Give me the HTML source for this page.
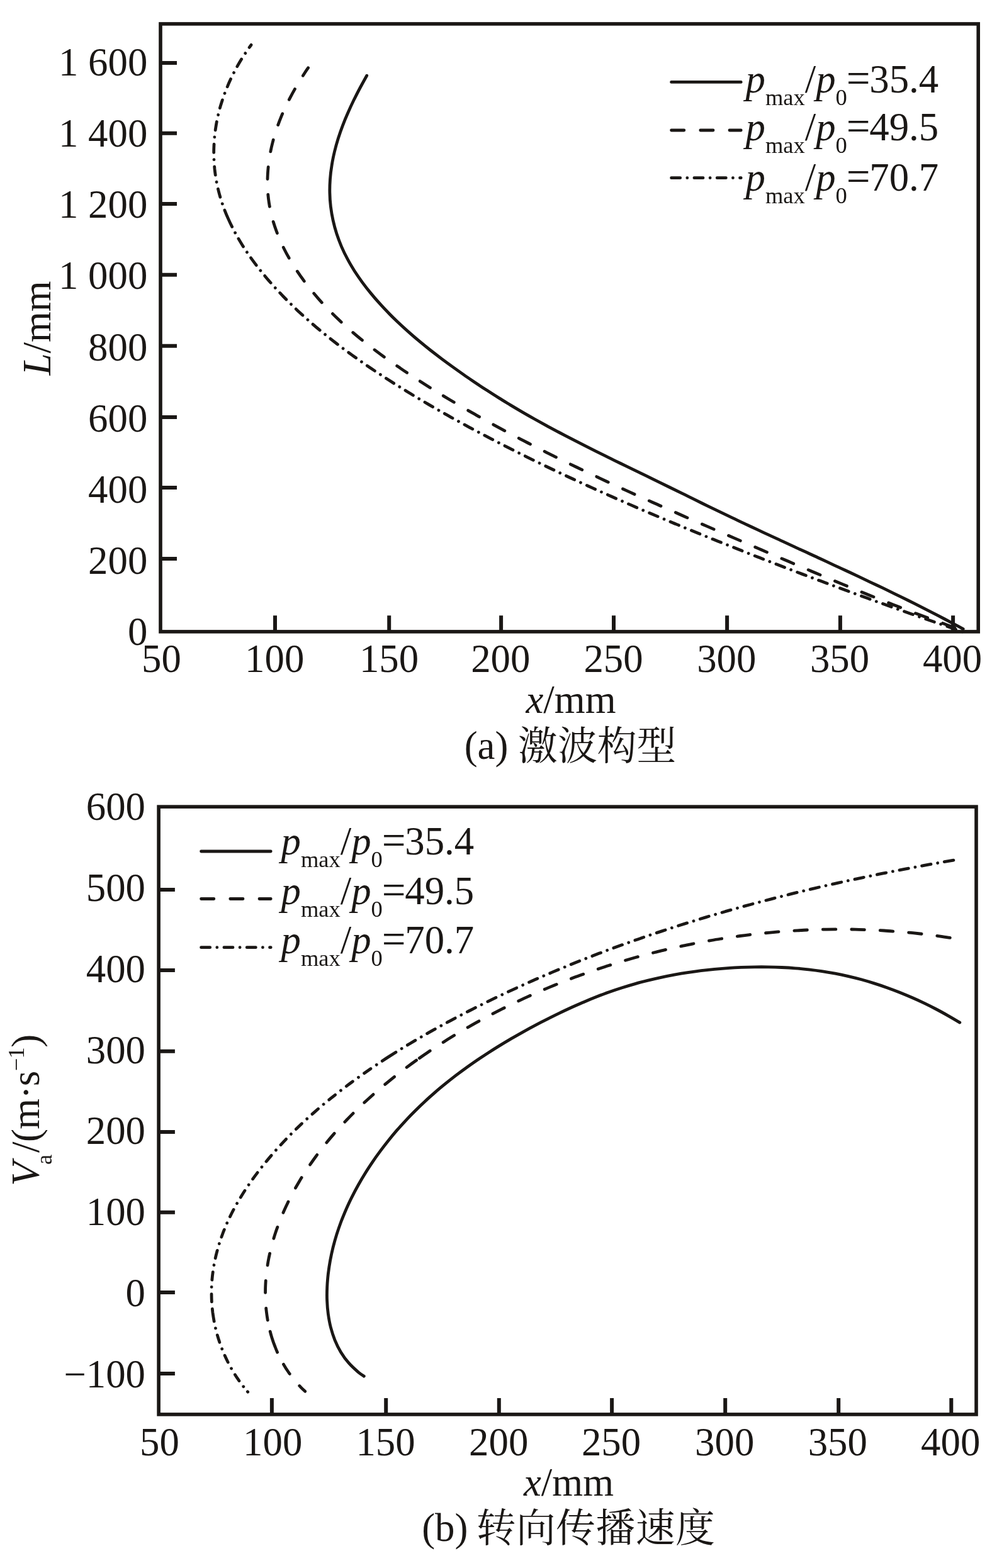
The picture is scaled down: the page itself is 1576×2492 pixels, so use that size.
<!DOCTYPE html>
<html lang="zh"><head><meta charset="utf-8"><title>激波构型与转向传播速度</title>
<style>html,body{margin:0;padding:0;background:#fff}svg{display:block}text{font-family:'Liberation Serif','Noto Serif CJK SC',serif;font-size:62.8px;fill:#1a1715}.i{font-style:italic}.s{font-size:36.5px}.ax{fill:none;stroke:#1a1715;stroke-width:5.6}.tk{stroke:#1a1715;stroke-width:6;fill:none}.cv{fill:none;stroke:#1a1715;stroke-width:4.8;stroke-linecap:round;stroke-linejoin:round}</style></head><body>
<svg width="1576" height="2492" viewBox="0 0 1576 2492">
<rect width="1576" height="2492" fill="#fff"/>
<rect class="ax" x="255.00" y="37.95" width="1299.20" height="965.95"/>
<path class="tk" d="M437.0 1003.9 V978.2M618.2 1003.9 V978.2M796.1 1003.9 V978.2M975.0 1003.9 V978.2M1155.1 1003.9 V978.2M1334.9 1003.9 V978.2M1514.1 1003.9 V978.2M255.0 99.9 H281.0M255.0 211.8 H281.0M255.0 323.9 H281.0M255.0 436.7 H281.0M255.0 549.8 H281.0M255.0 662.9 H281.0M255.0 775.0 H281.0M255.0 887.9 H281.0"/>
<text x="256.4" y="1068.2" text-anchor="middle">50</text>
<text x="436.2" y="1068.2" text-anchor="middle">100</text>
<text x="618.0" y="1068.2" text-anchor="middle">150</text>
<text x="795.3" y="1068.2" text-anchor="middle">200</text>
<text x="974.5" y="1068.2" text-anchor="middle">250</text>
<text x="1154.3" y="1068.2" text-anchor="middle">300</text>
<text x="1334.0" y="1068.2" text-anchor="middle">350</text>
<text x="1513.0" y="1068.2" text-anchor="middle">400</text>
<text x="234.3" y="119.8" text-anchor="end">1 600</text>
<text x="234.3" y="232.9" text-anchor="end">1 400</text>
<text x="234.3" y="346.1" text-anchor="end">1 200</text>
<text x="234.3" y="459.3" text-anchor="end">1 000</text>
<text x="234.3" y="572.8" text-anchor="end">800</text>
<text x="234.3" y="685.8" text-anchor="end">600</text>
<text x="234.3" y="799.1" text-anchor="end">400</text>
<text x="234.3" y="912.3" text-anchor="end">200</text>
<text x="234.3" y="1024.9" text-anchor="end">0</text>
<text x="907" y="1132.8" text-anchor="middle"><tspan class="i">x</tspan>/mm</text>
<text x="906" y="1205.6" text-anchor="middle">(a) <tspan dy="0.9">激波构型</tspan></text>
<text transform="translate(79.5 521.4) rotate(-90)" text-anchor="middle"><tspan class="i">L</tspan>/mm</text>
<path class="cv" d="M1066.6 130.4 H1177.2"/>
<path class="cv" stroke-dasharray="20.2 26" d="M1066.6 207.0 H1177.2"/>
<path class="cv" stroke-dasharray="14.1 11.1 0.01 11.1" d="M1066.6 282.7 H1177.2"/>
<text x="1184.5" y="146.6"><tspan class="i">p</tspan><tspan class="s" dy="20">max</tspan><tspan dy="-20">/</tspan><tspan class="i">p</tspan><tspan class="s" dy="20">0</tspan><tspan dy="-20" dx="-1.2" font-size="67">=</tspan><tspan dx="-1.2">35.4</tspan></text>
<text x="1184.5" y="223.0"><tspan class="i">p</tspan><tspan class="s" dy="20">max</tspan><tspan dy="-20">/</tspan><tspan class="i">p</tspan><tspan class="s" dy="20">0</tspan><tspan dy="-20" dx="-1.2" font-size="67">=</tspan><tspan dx="-1.2">49.5</tspan></text>
<text x="1184.5" y="303.0"><tspan class="i">p</tspan><tspan class="s" dy="20">max</tspan><tspan dy="-20">/</tspan><tspan class="i">p</tspan><tspan class="s" dy="20">0</tspan><tspan dy="-20" dx="-1.2" font-size="67">=</tspan><tspan dx="-1.2">70.7</tspan></text>
<path class="cv" d="M582.7 120.2C580.9 123.4 575.6 133.0 572.1 139.5C568.7 145.9 565.4 152.5 562.1 159.0C558.9 165.6 555.8 172.3 552.9 179.0C549.9 185.7 547.1 192.4 544.5 199.3C541.9 206.1 539.5 213.1 537.3 220.0C535.1 227.0 533.1 234.1 531.4 241.2C529.7 248.3 528.2 255.5 527.1 262.8C525.9 270.0 525.0 277.3 524.5 284.6C524.0 291.9 523.7 299.2 523.9 306.6C524.0 313.9 524.5 321.2 525.4 328.5C526.3 335.7 527.5 343.0 529.1 350.1C530.7 357.3 532.6 364.4 534.8 371.3C537.1 378.3 539.7 385.2 542.5 391.9C545.4 398.7 548.6 405.3 552.1 411.7C555.5 418.2 559.3 424.5 563.2 430.7C567.2 436.8 571.4 442.9 575.7 448.8C580.0 454.7 584.5 460.4 589.2 466.1C593.8 471.8 598.6 477.3 603.5 482.7C608.4 488.2 613.5 493.5 618.6 498.7C623.7 504.0 629.0 509.1 634.3 514.1C639.6 519.2 645.1 524.1 650.6 528.9C656.1 533.8 661.6 538.5 667.3 543.2C672.9 547.9 678.6 552.5 684.4 557.0C690.2 561.5 696.0 566.0 701.8 570.4C707.7 574.8 713.6 579.1 719.6 583.4C725.5 587.6 731.5 591.9 737.5 596.1C743.5 600.3 749.6 604.4 755.6 608.5C761.7 612.6 767.8 616.6 774.0 620.6C780.1 624.6 786.3 628.6 792.5 632.4C798.7 636.3 805.0 640.1 811.2 643.9C817.5 647.7 823.8 651.4 830.2 655.1C836.5 658.8 842.9 662.4 849.3 666.0C855.7 669.6 862.1 673.1 868.5 676.6C875.0 680.1 881.4 683.6 887.9 687.0C894.4 690.4 900.9 693.8 907.4 697.2C913.9 700.5 920.4 703.9 926.9 707.2C933.5 710.5 940.0 713.8 946.6 717.1C953.1 720.3 959.7 723.6 966.3 726.8C972.8 730.1 979.4 733.3 986.0 736.5C992.6 739.7 999.2 742.9 1005.8 746.1C1012.4 749.3 1018.9 752.5 1025.5 755.7C1032.1 758.9 1038.7 762.1 1045.3 765.4C1051.9 768.6 1058.5 771.8 1065.0 775.0C1071.6 778.3 1078.2 781.5 1084.8 784.7C1091.3 788.0 1097.9 791.2 1104.5 794.4C1111.1 797.7 1117.6 800.9 1124.2 804.1C1130.8 807.3 1137.4 810.5 1144.0 813.7C1150.6 816.9 1157.2 820.1 1163.8 823.2C1170.4 826.4 1177.1 829.5 1183.7 832.6C1190.3 835.7 1197.0 838.8 1203.6 841.9C1210.2 845.0 1216.9 848.1 1223.5 851.2C1230.2 854.3 1236.8 857.4 1243.5 860.4C1250.1 863.5 1256.8 866.6 1263.4 869.6C1270.1 872.7 1276.7 875.8 1283.4 878.8C1290.1 881.9 1296.7 885.0 1303.4 888.0C1310.0 891.1 1316.7 894.2 1323.3 897.3C1330.0 900.3 1336.6 903.4 1343.2 906.5C1349.9 909.6 1356.5 912.7 1363.2 915.9C1369.8 919.0 1376.4 922.1 1383.0 925.3C1389.6 928.4 1396.3 931.6 1402.9 934.7C1409.5 937.9 1416.1 941.1 1422.6 944.3C1429.2 947.5 1435.8 950.8 1442.4 954.0C1448.9 957.3 1455.5 960.6 1462.0 963.9C1468.6 967.2 1475.1 970.5 1481.6 973.8C1488.1 977.2 1494.6 980.6 1501.1 984.0C1507.6 987.4 1515.7 991.7 1520.5 994.3C1525.3 996.9 1528.6 998.7 1530.2 999.6"/>
<path class="cv" stroke-dasharray="20.48 25.46 20.48 25.46 20.48 25.46 20.48 25.46 20.48 25.46 20.48 25.46 20.48 25.46 20.48 25.46 20.48 25.46 20.48 25.46 20.48 25.46 20.48 25.46 20.48 25.46 20.48 25.46 20.48 25.46 20.48 25.46 20.48 25.46 20.48 25.46 20.48 25.96 19.83 24.45 19.18 24.77 19.18 24.77 19.18 24.77 19.18 24.77 19.18 24.77 19.18 24.77 19.18 24.77 19.18 24.77 19.18 24.77 19.18 24.77 19.18 24.77 19.18 24.77 19.18 24.77 19.18 24.77 14.92 9999" stroke-dashoffset="-13.89" d="M1529.9 1002.1C1527.4 1001.2 1520.0 998.6 1515.1 996.9C1510.1 995.1 1505.2 993.4 1500.3 991.6C1495.4 989.8 1490.5 988.0 1485.5 986.2C1480.6 984.4 1475.7 982.6 1470.8 980.8C1465.9 979.0 1461.0 977.1 1456.1 975.3C1451.2 973.4 1446.4 971.5 1441.5 969.7C1436.6 967.8 1431.7 965.9 1426.9 964.0C1422.0 962.1 1417.1 960.2 1412.2 958.3C1407.4 956.4 1402.5 954.5 1397.7 952.5C1392.8 950.6 1388.0 948.6 1383.1 946.7C1378.3 944.7 1373.4 942.8 1368.6 940.8C1363.7 938.8 1358.9 936.9 1354.0 934.9C1349.2 932.9 1344.4 930.9 1339.5 928.9C1334.7 926.9 1329.9 924.9 1325.1 922.9C1320.2 920.9 1315.4 918.9 1310.6 916.8C1305.8 914.8 1301.0 912.8 1296.1 910.8C1291.3 908.7 1286.5 906.7 1281.7 904.6C1276.9 902.6 1272.1 900.6 1267.3 898.5C1262.5 896.5 1257.6 894.4 1252.8 892.3C1248.0 890.3 1243.2 888.2 1238.4 886.2C1233.6 884.1 1228.8 882.0 1224.0 880.0C1219.2 877.9 1214.4 875.8 1209.6 873.8C1204.8 871.7 1200.0 869.6 1195.2 867.5C1190.4 865.5 1185.6 863.4 1180.8 861.3C1176.0 859.3 1171.2 857.2 1166.4 855.1C1161.6 853.0 1156.8 851.0 1152.0 848.9C1147.2 846.8 1142.4 844.7 1137.6 842.6C1132.8 840.6 1128.0 838.5 1123.2 836.4C1118.4 834.3 1113.6 832.2 1108.8 830.1C1104.0 828.0 1099.2 825.9 1094.4 823.9C1089.6 821.8 1084.8 819.7 1080.0 817.5C1075.3 815.4 1070.5 813.3 1065.7 811.2C1060.9 809.1 1056.1 807.0 1051.3 804.9C1046.6 802.7 1041.8 800.6 1037.0 798.5C1032.2 796.3 1027.5 794.2 1022.7 792.1C1017.9 789.9 1013.2 787.8 1008.4 785.6C1003.6 783.4 998.9 781.3 994.1 779.1C989.4 776.9 984.6 774.8 979.9 772.6C975.1 770.4 970.4 768.2 965.6 766.0C960.9 763.8 956.2 761.6 951.4 759.3C946.7 757.1 942.0 754.9 937.2 752.6C932.5 750.4 927.8 748.2 923.1 745.9C918.4 743.6 913.7 741.4 909.0 739.1C904.3 736.8 899.6 734.5 894.9 732.2C890.2 729.9 885.5 727.6 880.8 725.3C876.1 723.0 871.4 720.6 866.8 718.3C862.1 715.9 857.4 713.6 852.8 711.2C848.1 708.8 843.5 706.4 838.8 704.0C834.2 701.6 829.5 699.2 824.9 696.8C820.3 694.4 815.6 691.9 811.0 689.5C806.4 687.0 801.8 684.6 797.2 682.1C792.6 679.6 788.0 677.1 783.4 674.6C778.8 672.1 774.2 669.6 769.6 667.0C765.1 664.5 760.5 661.9 756.0 659.3C751.4 656.8 746.9 654.2 742.3 651.6C737.8 648.9 733.3 646.3 728.8 643.7C724.3 641.0 719.8 638.4 715.3 635.7C710.8 633.0 706.3 630.3 701.8 627.6C697.4 624.8 692.9 622.1 688.5 619.3C684.0 616.6 679.6 613.8 675.2 611.0C670.8 608.2 666.4 605.3 662.0 602.5C657.6 599.7 653.2 596.8 648.9 593.9C644.5 591.0 640.2 588.1 635.9 585.1C631.5 582.2 627.2 579.2 622.9 576.2C618.7 573.2 614.4 570.2 610.2 567.2C605.9 564.1 601.7 561.0 597.6 557.9C593.4 554.7 589.2 551.6 585.1 548.3C581.0 545.1 576.9 541.9 572.9 538.6C568.8 535.3 564.8 531.9 560.9 528.6C556.9 525.2 553.0 521.7 549.1 518.2C545.2 514.7 541.4 511.2 537.6 507.6C533.8 504.0 530.1 500.4 526.4 496.6C522.7 492.9 519.1 489.2 515.5 485.3C511.9 481.5 508.4 477.6 504.9 473.6C501.5 469.7 498.0 465.6 494.7 461.5C491.4 457.4 488.1 453.3 484.9 449.1C481.8 444.8 478.7 440.6 475.7 436.2C472.7 431.9 469.8 427.5 467.0 423.1C464.2 418.6 461.4 414.1 458.9 409.5C456.3 405.0 453.8 400.4 451.5 395.7C449.2 391.1 446.9 386.3 444.9 381.6C442.8 376.8 440.9 372.0 439.1 367.2C437.3 362.3 435.7 357.4 434.2 352.5C432.7 347.5 431.4 342.5 430.3 337.5C429.1 332.5 428.2 327.4 427.4 322.3C426.6 317.2 426.0 312.0 425.6 306.9C425.2 301.7 425.0 296.5 424.9 291.2C424.9 286.0 425.1 280.7 425.4 275.5C425.7 270.2 426.2 265.0 426.8 259.7C427.5 254.5 428.3 249.2 429.3 244.0C430.2 238.8 431.3 233.6 432.6 228.5C433.9 223.4 435.3 218.3 436.8 213.2C438.3 208.2 440.0 203.2 441.8 198.3C443.6 193.3 445.5 188.5 447.5 183.6C449.5 178.8 451.7 174.0 453.9 169.3C456.1 164.6 458.5 159.9 460.9 155.3C463.3 150.7 465.8 146.1 468.4 141.6C471.0 137.0 473.7 132.6 476.4 128.1C479.1 123.7 482.3 118.8 484.7 115.0C487.2 111.2 490.2 106.9 491.2 105.3"/>
<path class="cv" stroke-dasharray="0.01 10.8 14.57 10.8 0.01 10.8 14.57 10.8 0.01 10.8 14.57 10.8 0.01 10.8 14.57 10.8 0.01 10.8 14.57 10.8 0.01 10.8 14.57 10.8 0.01 10.8 14.57 10.8 0.01 10.8 14.57 10.8 0.01 10.8 14.57 10.8 0.01 10.8 14.57 10.8 0.01 10.8 14.57 10.8 0.01 10.8 14.57 10.8 0.01 10.8 14.57 10.8 0.01 10.8 14.57 10.8 0.01 10.8 14.57 10.8 0.01 10.8 14.57 10.8 0.01 10.8 14.57 10.8 0.01 10.8 14.57 10.8 0.01 10.8 14.57 10.8 0.01 10.8 14.57 10.8 0.01 10.8 14.57 10.8 0.01 10.8 14.57 10.8 0.01 10.8 14.57 10.8 0.01 10.8 14.57 10.8 0.01 10.8 14.57 10.8 0.01 10.8 14.57 10.8 0.01 10.8 14.57 10.8 0.01 10.8 14.57 10.8 0.01 10.8 14.57 10.8 0.01 10.8 14.57 10.8 0.01 10.8 14.57 10.8 0.01 10.8 14.57 10.8 0.01 10.8 14.57 10.8 0.01 10.8 14.57 10.8 0.01 10.8 14.57 10.8 0.01 10.8 14.57 10.8 0.01 10.8 14.57 10.8 0.01 10.8 28.86 10.8 0.01 11.2 13.42 11.2 0.01 11.2 13.42 11.2 0.01 11.2 13.42 11.2 0.01 11.2 13.42 11.2 0.01 11.2 13.42 11.2 0.01 11.2 13.42 11.2 0.01 11.2 13.42 11.2 0.01 11.2 4.99 9999" stroke-dashoffset="-1.54" d="M1530.3 1004.3C1527.7 1003.4 1519.8 1000.7 1514.6 998.9C1509.3 997.1 1504.1 995.3 1498.9 993.5C1493.6 991.7 1488.4 989.9 1483.1 988.1C1477.9 986.3 1472.7 984.4 1467.4 982.6C1462.2 980.8 1457.0 978.9 1451.7 977.1C1446.5 975.2 1441.3 973.4 1436.0 971.5C1430.8 969.7 1425.6 967.8 1420.3 966.0C1415.1 964.1 1409.9 962.2 1404.7 960.3C1399.5 958.5 1394.2 956.6 1389.0 954.7C1383.8 952.8 1378.6 950.9 1373.4 949.0C1368.2 947.1 1362.9 945.2 1357.7 943.3C1352.5 941.4 1347.3 939.5 1342.1 937.6C1336.9 935.7 1331.7 933.8 1326.5 931.8C1321.3 929.9 1316.1 928.0 1310.9 926.0C1305.7 924.1 1300.5 922.1 1295.3 920.2C1290.1 918.2 1284.9 916.3 1279.7 914.3C1274.5 912.4 1269.4 910.4 1264.2 908.4C1259.0 906.4 1253.8 904.5 1248.6 902.5C1243.4 900.5 1238.3 898.5 1233.1 896.5C1227.9 894.5 1222.7 892.5 1217.6 890.5C1212.4 888.5 1207.2 886.5 1202.0 884.5C1196.9 882.4 1191.7 880.4 1186.5 878.4C1181.4 876.4 1176.2 874.3 1171.1 872.3C1165.9 870.2 1160.8 868.2 1155.6 866.1C1150.4 864.1 1145.3 862.0 1140.1 860.0C1135.0 857.9 1129.8 855.8 1124.7 853.7C1119.6 851.7 1114.4 849.6 1109.3 847.5C1104.1 845.4 1099.0 843.3 1093.9 841.2C1088.7 839.1 1083.6 837.0 1078.5 834.8C1073.4 832.7 1068.2 830.6 1063.1 828.4C1058.0 826.3 1052.9 824.2 1047.8 822.0C1042.7 819.9 1037.6 817.7 1032.4 815.5C1027.3 813.3 1022.2 811.2 1017.1 809.0C1012.1 806.8 1007.0 804.6 1001.9 802.4C996.8 800.2 991.7 798.0 986.6 795.7C981.5 793.5 976.5 791.3 971.4 789.0C966.3 786.8 961.3 784.5 956.2 782.2C951.1 780.0 946.1 777.7 941.0 775.4C936.0 773.1 930.9 770.8 925.9 768.5C920.8 766.2 915.8 763.9 910.8 761.5C905.8 759.2 900.7 756.9 895.7 754.5C890.7 752.1 885.7 749.8 880.7 747.4C875.7 745.0 870.6 742.6 865.7 740.2C860.7 737.8 855.7 735.4 850.7 732.9C845.7 730.5 840.7 728.1 835.7 725.6C830.8 723.1 825.8 720.7 820.8 718.2C815.9 715.7 810.9 713.2 806.0 710.7C801.0 708.2 796.1 705.6 791.2 703.1C786.2 700.5 781.3 698.0 776.4 695.4C771.5 692.8 766.5 690.2 761.6 687.6C756.7 685.0 751.8 682.4 746.9 679.8C742.1 677.2 737.2 674.5 732.3 671.8C727.4 669.2 722.6 666.5 717.7 663.8C712.9 661.1 708.0 658.3 703.2 655.6C698.4 652.9 693.5 650.1 688.7 647.3C683.9 644.5 679.1 641.7 674.3 638.9C669.6 636.1 664.8 633.3 660.0 630.4C655.3 627.5 650.5 624.6 645.8 621.7C641.1 618.8 636.4 615.9 631.7 612.9C627.0 610.0 622.3 607.0 617.7 604.0C613.0 601.0 608.4 598.0 603.7 594.9C599.1 591.9 594.5 588.8 589.9 585.7C585.3 582.6 580.8 579.5 576.2 576.3C571.7 573.1 567.2 569.9 562.7 566.7C558.2 563.5 553.7 560.2 549.3 557.0C544.8 553.7 540.4 550.3 536.0 547.0C531.6 543.6 527.2 540.2 522.9 536.8C518.6 533.3 514.3 529.9 510.0 526.3C505.8 522.8 501.5 519.3 497.3 515.6C493.1 512.0 489.0 508.4 484.9 504.7C480.8 501.0 476.7 497.2 472.6 493.4C468.6 489.6 464.6 485.7 460.6 481.8C456.7 477.9 452.8 473.9 448.9 469.9C445.1 465.9 441.2 461.8 437.5 457.7C433.7 453.6 430.0 449.4 426.3 445.1C422.7 440.9 419.1 436.5 415.6 432.2C412.0 427.8 408.6 423.4 405.2 418.9C401.9 414.4 398.6 409.9 395.4 405.3C392.2 400.7 389.1 396.1 386.2 391.4C383.2 386.7 380.3 381.9 377.6 377.1C374.8 372.3 372.2 367.4 369.7 362.5C367.2 357.6 364.8 352.6 362.6 347.6C360.3 342.6 358.2 337.5 356.3 332.4C354.4 327.2 352.6 322.1 351.0 316.8C349.3 311.6 347.9 306.3 346.6 301.0C345.3 295.7 344.2 290.3 343.3 284.9C342.3 279.4 341.6 273.9 341.0 268.4C340.5 262.9 340.1 257.4 339.9 251.9C339.7 246.3 339.6 240.7 339.8 235.2C340.0 229.6 340.3 224.0 340.8 218.5C341.3 212.9 342.0 207.4 342.9 201.8C343.7 196.3 344.8 190.8 346.0 185.4C347.2 179.9 348.6 174.5 350.1 169.1C351.7 163.8 353.4 158.5 355.2 153.2C357.1 147.9 359.1 142.7 361.3 137.6C363.4 132.4 365.7 127.4 368.1 122.4C370.6 117.3 373.1 112.4 375.8 107.5C378.5 102.7 381.3 97.9 384.2 93.2C387.1 88.5 390.6 83.4 393.3 79.4C396.0 75.4 399.3 71.1 400.5 69.4"/>
<rect class="ax" x="252.10" y="1282.15" width="1298.90" height="965.75"/>
<path class="tk" d="M431.9 2247.9 V2222.0M613.2 2247.9 V2222.0M792.8 2247.9 V2222.0M972.1 2247.9 V2222.0M1152.2 2247.9 V2222.0M1332.2 2247.9 V2222.0M1511.3 2247.9 V2222.0M252.1 1413.9 H277.9M252.1 1541.9 H277.9M252.1 1670.8 H277.9M252.1 1799.0 H277.9M252.1 1926.8 H277.9M252.1 2053.9 H277.9M252.1 2183.1 H277.9"/>
<text x="253.4" y="2312.5" text-anchor="middle">50</text>
<text x="433.2" y="2312.5" text-anchor="middle">100</text>
<text x="612.5" y="2312.5" text-anchor="middle">150</text>
<text x="792.2" y="2312.5" text-anchor="middle">200</text>
<text x="971.0" y="2312.5" text-anchor="middle">250</text>
<text x="1151.2" y="2312.5" text-anchor="middle">300</text>
<text x="1330.8" y="2312.5" text-anchor="middle">350</text>
<text x="1510.2" y="2312.5" text-anchor="middle">400</text>
<text x="231.0" y="1302.8" text-anchor="end">600</text>
<text x="231.0" y="1432.2" text-anchor="end">500</text>
<text x="231.0" y="1561.2" text-anchor="end">400</text>
<text x="231.0" y="1689.9" text-anchor="end">300</text>
<text x="231.0" y="1818.3" text-anchor="end">200</text>
<text x="231.0" y="1947.2" text-anchor="end">100</text>
<text x="231.0" y="2076.1" text-anchor="end">0</text>
<text x="231.0" y="2205.3" text-anchor="end">−100</text>
<text x="903.5" y="2377" text-anchor="middle"><tspan class="i">x</tspan>/mm</text>
<text x="903.2" y="2449.2" text-anchor="middle">(b) <tspan dx="-2.4" dy="0.6" letter-spacing="0.45">转向传播速度</tspan></text>
<text transform="translate(62 1764.6) rotate(-90)" text-anchor="middle" letter-spacing="-0.6"><tspan class="i">V</tspan><tspan class="s" dy="20" dx="-4">a</tspan><tspan dy="-20" dx="3.5">/(m·s</tspan><tspan class="s" dy="-24">−1</tspan><tspan dy="24">)</tspan></text>
<path class="cv" d="M319.6 1353.0 H430.2"/>
<path class="cv" stroke-dasharray="20.2 26" d="M319.6 1428.5 H430.2"/>
<path class="cv" stroke-dasharray="14.1 11.1 0.01 11.1" d="M319.6 1505.7 H430.2"/>
<text x="446.5" y="1358.3"><tspan class="i">p</tspan><tspan class="s" dy="20">max</tspan><tspan dy="-20">/</tspan><tspan class="i">p</tspan><tspan class="s" dy="20">0</tspan><tspan dy="-20" dx="-1.2" font-size="67">=</tspan><tspan dx="-1.2">35.4</tspan></text>
<text x="446.5" y="1437.3"><tspan class="i">p</tspan><tspan class="s" dy="20">max</tspan><tspan dy="-20">/</tspan><tspan class="i">p</tspan><tspan class="s" dy="20">0</tspan><tspan dy="-20" dx="-1.2" font-size="67">=</tspan><tspan dx="-1.2">49.5</tspan></text>
<text x="446.5" y="1514.9"><tspan class="i">p</tspan><tspan class="s" dy="20">max</tspan><tspan dy="-20">/</tspan><tspan class="i">p</tspan><tspan class="s" dy="20">0</tspan><tspan dy="-20" dx="-1.2" font-size="67">=</tspan><tspan dx="-1.2">70.7</tspan></text>
<path class="cv" d="M1524.8 1625.1C1521.8 1623.3 1512.6 1617.8 1506.4 1614.3C1500.2 1610.8 1493.9 1607.3 1487.6 1604.0C1481.3 1600.7 1474.9 1597.5 1468.5 1594.4C1462.1 1591.3 1455.6 1588.3 1449.1 1585.5C1442.5 1582.6 1436.0 1579.9 1429.3 1577.2C1422.7 1574.6 1416.0 1572.1 1409.3 1569.7C1402.6 1567.3 1395.8 1565.0 1389.0 1562.9C1382.2 1560.7 1375.4 1558.7 1368.5 1556.8C1361.6 1554.9 1354.7 1553.2 1347.8 1551.6C1340.8 1550.0 1333.8 1548.5 1326.8 1547.2C1319.8 1545.9 1312.8 1544.7 1305.7 1543.6C1298.7 1542.5 1291.6 1541.6 1284.5 1540.8C1277.4 1540.0 1270.3 1539.3 1263.2 1538.8C1256.1 1538.2 1249.0 1537.8 1241.9 1537.5C1234.7 1537.1 1227.6 1536.9 1220.5 1536.8C1213.3 1536.7 1206.2 1536.7 1199.1 1536.8C1191.9 1536.9 1184.8 1537.1 1177.7 1537.4C1170.6 1537.7 1163.4 1538.1 1156.3 1538.6C1149.2 1539.1 1142.1 1539.7 1135.0 1540.3C1127.9 1541.0 1120.8 1541.8 1113.7 1542.6C1106.6 1543.5 1099.6 1544.5 1092.5 1545.6C1085.5 1546.6 1078.4 1547.8 1071.4 1549.1C1064.4 1550.4 1057.4 1551.8 1050.4 1553.3C1043.5 1554.8 1036.5 1556.4 1029.6 1558.1C1022.7 1559.8 1015.8 1561.6 1008.9 1563.6C1002.1 1565.5 995.2 1567.6 988.4 1569.8C981.6 1571.9 974.9 1574.2 968.2 1576.6C961.4 1579.0 954.8 1581.5 948.1 1584.1C941.5 1586.7 934.9 1589.4 928.3 1592.2C921.7 1594.9 915.2 1597.8 908.7 1600.7C902.2 1603.7 895.7 1606.7 889.3 1609.8C882.9 1612.9 876.5 1616.0 870.1 1619.3C863.8 1622.5 857.4 1625.8 851.1 1629.1C844.8 1632.5 838.6 1635.9 832.3 1639.3C826.1 1642.8 819.9 1646.3 813.7 1649.9C807.6 1653.5 801.4 1657.1 795.3 1660.9C789.2 1664.6 783.2 1668.4 777.2 1672.2C771.2 1676.1 765.2 1680.0 759.3 1684.0C753.4 1688.0 747.6 1692.1 741.8 1696.2C736.0 1700.4 730.3 1704.6 724.6 1708.9C718.9 1713.3 713.3 1717.7 707.8 1722.2C702.2 1726.7 696.7 1731.2 691.4 1735.9C686.0 1740.6 680.6 1745.3 675.4 1750.2C670.2 1755.0 665.0 1760.0 660.0 1765.0C654.9 1770.0 649.9 1775.1 645.1 1780.3C640.2 1785.6 635.4 1790.8 630.7 1796.2C626.1 1801.6 621.5 1807.1 617.0 1812.7C612.6 1818.2 608.2 1823.9 604.0 1829.6C599.7 1835.3 595.6 1841.1 591.6 1847.1C587.6 1853.0 583.7 1858.9 580.0 1865.0C576.2 1871.1 572.6 1877.2 569.1 1883.5C565.6 1889.7 562.3 1896.0 559.1 1902.4C555.9 1908.7 552.9 1915.2 550.0 1921.7C547.2 1928.3 544.4 1934.9 541.9 1941.5C539.4 1948.2 537.1 1955.0 534.9 1961.8C532.8 1968.6 530.9 1975.4 529.1 1982.4C527.4 1989.3 525.9 1996.3 524.6 2003.3C523.3 2010.3 522.3 2017.3 521.4 2024.4C520.6 2031.5 520.0 2038.6 519.7 2045.7C519.4 2052.9 519.3 2060.0 519.6 2067.1C519.9 2074.3 520.4 2081.4 521.4 2088.5C522.4 2095.5 523.6 2102.6 525.4 2109.5C527.2 2116.3 529.4 2123.2 532.0 2129.8C534.7 2136.4 537.9 2142.9 541.5 2148.9C545.2 2155.0 549.4 2160.9 554.1 2166.2C558.7 2171.6 565.5 2177.5 569.5 2181.0C573.6 2184.5 576.8 2186.1 578.3 2187.2"/>
<path class="cv" stroke-dasharray="20.57 24.92 20.57 24.92 20.57 24.92 20.57 24.92 20.57 24.92 20.57 24.92 20.57 24.92 20.57 24.92 20.57 24.92 20.57 24.92 20.57 24.92 20.57 24.92 20.57 24.92 20.57 24.92 20.57 24.92 20.57 24.92 20.57 24.92 20.57 24.92 20.57 24.92 20.57 5.8 19.17 24.6 19.16 24.61 19.15 24.62 19.14 24.63 19.13 24.64 19.11 24.66 19.1 24.67 19.09 24.68 19.08 24.69 19.07 24.7 19.06 24.71 19.04 18.52 34.98 21.55 18.04 24.35 12.33 9999" stroke-dashoffset="-1.67" d="M1510.8 1490.6C1508.3 1490.3 1500.7 1489.1 1495.7 1488.3C1490.6 1487.6 1485.6 1486.9 1480.5 1486.3C1475.5 1485.6 1470.4 1485.0 1465.3 1484.4C1460.3 1483.8 1455.2 1483.3 1450.1 1482.7C1445.1 1482.2 1440.0 1481.7 1434.9 1481.3C1429.8 1480.8 1424.7 1480.4 1419.7 1480.1C1414.6 1479.7 1409.5 1479.3 1404.4 1479.0C1399.3 1478.7 1394.2 1478.4 1389.1 1478.2C1384.0 1477.9 1379.0 1477.7 1373.9 1477.6C1368.8 1477.4 1363.7 1477.2 1358.6 1477.1C1353.5 1477.0 1348.4 1477.0 1343.3 1476.9C1338.2 1476.9 1333.1 1476.9 1328.0 1476.9C1322.9 1476.9 1317.8 1477.0 1312.7 1477.1C1307.6 1477.2 1302.5 1477.3 1297.4 1477.4C1292.3 1477.6 1287.3 1477.8 1282.2 1478.0C1277.1 1478.2 1272.0 1478.5 1266.9 1478.8C1261.8 1479.1 1256.7 1479.4 1251.6 1479.8C1246.6 1480.1 1241.5 1480.5 1236.4 1480.9C1231.3 1481.4 1226.3 1481.8 1221.2 1482.3C1216.1 1482.8 1211.0 1483.3 1206.0 1483.8C1200.9 1484.4 1195.8 1485.0 1190.8 1485.6C1185.7 1486.2 1180.7 1486.9 1175.6 1487.5C1170.6 1488.2 1165.5 1488.9 1160.5 1489.7C1155.4 1490.4 1150.4 1491.2 1145.4 1492.0C1140.3 1492.8 1135.3 1493.6 1130.3 1494.5C1125.3 1495.4 1120.2 1496.3 1115.2 1497.2C1110.2 1498.1 1105.2 1499.1 1100.2 1500.1C1095.2 1501.1 1090.2 1502.1 1085.2 1503.2C1080.3 1504.2 1075.3 1505.3 1070.3 1506.4C1065.3 1507.5 1060.4 1508.7 1055.4 1509.9C1050.5 1511.0 1045.5 1512.3 1040.6 1513.5C1035.6 1514.7 1030.7 1516.0 1025.8 1517.3C1020.8 1518.6 1015.9 1520.0 1011.0 1521.3C1006.1 1522.7 1001.2 1524.1 996.3 1525.5C991.4 1526.9 986.5 1528.4 981.7 1529.9C976.8 1531.4 971.9 1532.9 967.1 1534.5C962.2 1536.0 957.4 1537.6 952.6 1539.2C947.7 1540.8 942.9 1542.5 938.1 1544.1C933.3 1545.8 928.5 1547.5 923.7 1549.3C918.9 1551.0 914.1 1552.8 909.3 1554.6C904.6 1556.4 899.8 1558.2 895.1 1560.1C890.3 1561.9 885.6 1563.8 880.9 1565.7C876.2 1567.7 871.5 1569.6 866.8 1571.6C862.1 1573.6 857.4 1575.6 852.7 1577.7C848.1 1579.7 843.4 1581.8 838.8 1583.9C834.1 1586.0 829.5 1588.1 824.9 1590.3C820.3 1592.5 815.7 1594.7 811.1 1596.9C806.5 1599.1 801.9 1601.4 797.4 1603.7C792.8 1606.0 788.3 1608.3 783.8 1610.6C779.2 1613.0 774.7 1615.4 770.2 1617.8C765.7 1620.2 761.3 1622.7 756.8 1625.1C752.3 1627.6 747.9 1630.1 743.5 1632.7C739.0 1635.2 734.6 1637.8 730.2 1640.4C725.9 1643.0 721.5 1645.6 717.1 1648.3C712.8 1650.9 708.5 1653.6 704.2 1656.4C699.9 1659.1 695.6 1661.9 691.3 1664.7C687.0 1667.5 682.8 1670.3 678.6 1673.2C674.4 1676.0 670.2 1678.9 666.0 1681.9C661.9 1684.8 657.7 1687.8 653.6 1690.8C649.5 1693.8 645.4 1696.8 641.3 1699.9C637.3 1703.0 633.3 1706.1 629.2 1709.2C625.2 1712.4 621.3 1715.5 617.3 1718.8C613.4 1722.0 609.5 1725.2 605.6 1728.5C601.7 1731.8 597.9 1735.2 594.0 1738.5C590.2 1741.9 586.4 1745.3 582.7 1748.7C578.9 1752.2 575.2 1755.7 571.5 1759.2C567.9 1762.7 564.2 1766.3 560.6 1769.9C557.0 1773.5 553.5 1777.1 549.9 1780.8C546.4 1784.5 543.0 1788.2 539.5 1792.0C536.1 1795.7 532.7 1799.5 529.4 1803.4C526.1 1807.2 522.8 1811.1 519.6 1815.0C516.4 1819.0 513.2 1823.0 510.1 1827.0C507.0 1831.0 503.9 1835.1 500.9 1839.2C497.9 1843.3 495.0 1847.5 492.1 1851.7C489.2 1855.9 486.4 1860.1 483.7 1864.4C480.9 1868.7 478.2 1873.1 475.6 1877.5C473.0 1881.9 470.4 1886.3 467.9 1890.8C465.5 1895.3 463.1 1899.8 460.7 1904.4C458.4 1908.9 456.2 1913.6 454.0 1918.2C451.8 1922.9 449.8 1927.6 447.8 1932.3C445.8 1937.0 443.9 1941.8 442.2 1946.6C440.4 1951.4 438.7 1956.2 437.1 1961.0C435.5 1965.9 434.1 1970.8 432.7 1975.7C431.3 1980.6 430.1 1985.5 429.0 1990.5C427.8 1995.4 426.8 2000.4 425.9 2005.4C425.1 2010.4 424.3 2015.4 423.7 2020.5C423.1 2025.5 422.6 2030.5 422.2 2035.6C421.9 2040.7 421.6 2045.7 421.6 2050.8C421.5 2055.9 421.6 2061.0 421.8 2066.1C422.0 2071.2 422.4 2076.3 422.9 2081.3C423.5 2086.4 424.1 2091.5 425.0 2096.5C425.8 2101.5 426.8 2106.5 428.0 2111.4C429.2 2116.4 430.5 2121.3 432.0 2126.2C433.5 2131.0 435.2 2135.8 437.1 2140.5C438.9 2145.3 440.9 2150.0 443.1 2154.5C445.3 2159.1 447.7 2163.6 450.3 2168.0C452.8 2172.5 455.6 2176.8 458.5 2181.0C461.4 2185.2 464.4 2189.3 467.7 2193.3C471.0 2197.3 474.9 2201.6 478.0 2204.8C481.2 2208.1 485.1 2211.6 486.5 2213.0"/>
<path class="cv" stroke-dasharray="14.64 10.8 0.01 10.8 14.64 10.8 0.01 10.8 14.64 10.8 0.01 10.8 14.64 10.8 0.01 10.8 14.64 10.8 0.01 10.8 14.64 10.8 0.01 10.8 14.64 10.8 0.01 10.8 14.64 10.8 0.01 10.8 14.64 10.8 0.01 10.8 14.64 10.8 0.01 10.8 14.64 10.8 0.01 10.8 14.64 10.8 0.01 10.8 14.64 10.8 0.01 10.8 14.64 10.8 0.01 10.8 14.64 10.8 0.01 10.8 14.64 10.8 0.01 10.8 14.64 10.8 0.01 10.8 14.64 10.8 0.01 10.8 14.64 10.8 0.01 10.8 14.64 10.8 0.01 10.8 14.64 10.8 0.01 10.8 14.64 10.8 0.01 10.8 14.64 10.8 0.01 10.8 14.64 10.8 0.01 10.8 14.64 10.8 0.01 10.8 14.64 10.8 0.01 10.8 25.82 10.8 0.01 11.2 12.62 11.2 0.01 11.2 12.62 11.2 0.01 11.2 12.62 11.2 0.01 11.2 12.62 11.2 0.01 11.2 12.62 11.2 0.01 11.2 12.62 11.2 0.01 11.2 12.62 11.2 0.01 11.2 12.62 11.2 0.01 11.2 12.62 11.2 0.01 11.2 12.62 11.2 0.01 11.2 12.62 11.2 0.01 11.2 12.62 11.2 0.01 11.2 12.62 11.2 0.01 11.2 12.4 11.3 19.95 11.2 0.01 11.3 11.89 11.3 0.01 11.3 11.89 11.3 0.01 11.3 11.89 11.3 0.01 10.38 0.6 9999" stroke-dashoffset="-1.47" d="M1516.1 1366.9C1513.4 1367.4 1505.4 1368.8 1500.1 1369.7C1494.8 1370.6 1489.5 1371.6 1484.2 1372.5C1478.9 1373.5 1473.6 1374.4 1468.3 1375.4C1463.0 1376.4 1457.7 1377.4 1452.4 1378.4C1447.1 1379.4 1441.8 1380.4 1436.5 1381.4C1431.2 1382.4 1425.9 1383.5 1420.6 1384.5C1415.3 1385.5 1410.0 1386.6 1404.7 1387.7C1399.4 1388.7 1394.1 1389.8 1388.8 1390.9C1383.5 1392.0 1378.2 1393.1 1372.9 1394.2C1367.6 1395.3 1362.3 1396.4 1357.0 1397.6C1351.7 1398.7 1346.4 1399.9 1341.2 1401.0C1335.9 1402.2 1330.6 1403.4 1325.3 1404.6C1320.0 1405.7 1314.8 1406.9 1309.5 1408.2C1304.2 1409.4 1298.9 1410.6 1293.7 1411.8C1288.4 1413.1 1283.1 1414.3 1277.9 1415.6C1272.6 1416.9 1267.4 1418.2 1262.1 1419.4C1256.8 1420.7 1251.6 1422.1 1246.3 1423.4C1241.1 1424.7 1235.8 1426.0 1230.6 1427.4C1225.4 1428.7 1220.1 1430.1 1214.9 1431.5C1209.6 1432.9 1204.4 1434.2 1199.2 1435.6C1194.0 1437.1 1188.7 1438.5 1183.5 1439.9C1178.3 1441.3 1173.1 1442.8 1167.9 1444.3C1162.6 1445.7 1157.4 1447.2 1152.2 1448.7C1147.0 1450.2 1141.8 1451.7 1136.6 1453.2C1131.4 1454.8 1126.3 1456.3 1121.1 1457.9C1115.9 1459.4 1110.7 1461.0 1105.5 1462.6C1100.4 1464.2 1095.2 1465.8 1090.0 1467.4C1084.9 1469.0 1079.7 1470.6 1074.6 1472.3C1069.4 1473.9 1064.3 1475.6 1059.1 1477.3C1054.0 1479.0 1048.8 1480.7 1043.7 1482.4C1038.6 1484.1 1033.5 1485.9 1028.3 1487.6C1023.2 1489.4 1018.1 1491.1 1013.0 1492.9C1007.9 1494.7 1002.8 1496.5 997.7 1498.3C992.6 1500.1 987.5 1502.0 982.4 1503.8C977.4 1505.7 972.3 1507.5 967.2 1509.4C962.2 1511.3 957.1 1513.2 952.0 1515.1C947.0 1517.1 941.9 1519.0 936.9 1521.0C931.9 1522.9 926.8 1524.9 921.8 1526.9C916.8 1528.9 911.8 1530.9 906.8 1532.9C901.8 1535.0 896.8 1537.0 891.8 1539.1C886.8 1541.2 881.8 1543.3 876.8 1545.4C871.8 1547.5 866.9 1549.6 861.9 1551.7C856.9 1553.9 852.0 1556.1 847.0 1558.2C842.1 1560.4 837.2 1562.6 832.2 1564.9C827.3 1567.1 822.4 1569.3 817.5 1571.6C812.6 1573.8 807.7 1576.1 802.8 1578.4C797.9 1580.7 793.0 1583.0 788.1 1585.4C783.3 1587.7 778.4 1590.1 773.5 1592.5C768.7 1594.9 763.8 1597.3 759.0 1599.7C754.2 1602.1 749.3 1604.6 744.5 1607.0C739.7 1609.5 734.9 1612.0 730.1 1614.5C725.3 1617.0 720.5 1619.5 715.8 1622.1C711.0 1624.6 706.2 1627.2 701.5 1629.8C696.7 1632.4 692.0 1635.0 687.3 1637.7C682.6 1640.3 677.8 1643.0 673.2 1645.7C668.5 1648.4 663.8 1651.1 659.1 1653.9C654.5 1656.6 649.8 1659.4 645.2 1662.2C640.6 1665.0 636.0 1667.9 631.4 1670.7C626.8 1673.6 622.2 1676.5 617.7 1679.4C613.1 1682.3 608.6 1685.3 604.1 1688.3C599.6 1691.3 595.1 1694.3 590.6 1697.3C586.2 1700.4 581.7 1703.5 577.3 1706.6C572.9 1709.7 568.5 1712.9 564.1 1716.0C559.7 1719.2 555.4 1722.4 551.1 1725.7C546.8 1729.0 542.5 1732.2 538.2 1735.6C533.9 1738.9 529.7 1742.3 525.5 1745.7C521.3 1749.1 517.1 1752.5 512.9 1756.0C508.8 1759.5 504.7 1763.0 500.6 1766.6C496.5 1770.1 492.5 1773.7 488.5 1777.4C484.5 1781.0 480.5 1784.7 476.6 1788.4C472.7 1792.2 468.8 1795.9 465.0 1799.7C461.2 1803.6 457.4 1807.4 453.7 1811.3C449.9 1815.2 446.3 1819.2 442.6 1823.2C439.0 1827.2 435.4 1831.3 431.9 1835.4C428.4 1839.5 424.9 1843.6 421.5 1847.8C418.0 1852.0 414.7 1856.3 411.4 1860.6C408.1 1864.9 404.8 1869.2 401.7 1873.6C398.5 1878.0 395.4 1882.5 392.4 1887.0C389.4 1891.5 386.4 1896.1 383.6 1900.7C380.7 1905.3 378.0 1910.0 375.3 1914.7C372.7 1919.4 370.1 1924.2 367.7 1929.0C365.3 1933.9 362.9 1938.8 360.7 1943.7C358.6 1948.7 356.5 1953.7 354.5 1958.7C352.6 1963.8 350.8 1968.9 349.1 1974.0C347.5 1979.2 346.0 1984.4 344.6 1989.6C343.2 1994.8 342.0 2000.1 340.9 2005.3C339.9 2010.6 339.0 2015.9 338.3 2021.3C337.5 2026.6 337.0 2032.0 336.6 2037.3C336.2 2042.7 336.0 2048.1 336.0 2053.5C336.0 2058.9 336.1 2064.3 336.4 2069.6C336.8 2075.0 337.3 2080.4 337.9 2085.8C338.6 2091.1 339.5 2096.5 340.5 2101.8C341.5 2107.1 342.8 2112.3 344.1 2117.6C345.5 2122.8 347.1 2128.0 348.8 2133.1C350.5 2138.2 352.5 2143.3 354.5 2148.3C356.6 2153.3 358.9 2158.3 361.3 2163.2C363.7 2168.0 366.3 2172.8 369.0 2177.5C371.8 2182.2 374.7 2186.9 377.8 2191.4C380.8 2195.9 384.5 2200.8 387.5 2204.6C390.4 2208.4 394.0 2212.5 395.3 2214.1"/>
</svg></body></html>
